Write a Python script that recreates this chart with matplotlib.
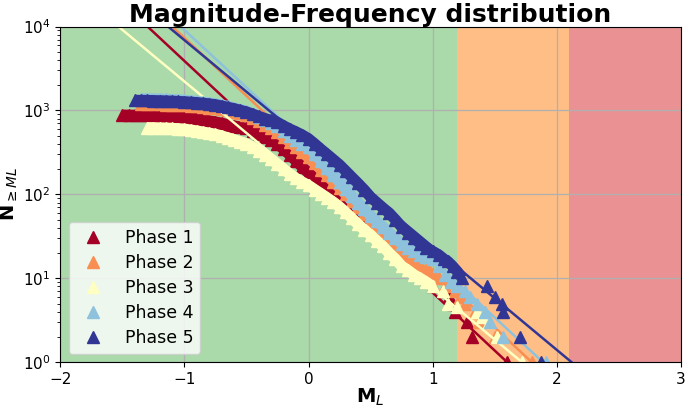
import numpy as np
import matplotlib
matplotlib.use("Agg")
import matplotlib.pyplot as plt

# cumulative counts N(>=M), one pair of arrays per phase
m_p1 = [-1.50, -1.45, -1.40, -1.35, -1.30, -1.25, -1.20, -1.15, -1.10, -1.05,
        -1.00, -0.95, -0.90, -0.85, -0.80, -0.75, -0.70, -0.65, -0.60, -0.55,
        -0.50, -0.45, -0.40, -0.35, -0.30, -0.25, -0.20, -0.15, -0.10, -0.05,
        0.00, 0.05, 0.10, 0.15, 0.20, 0.25, 0.30, 0.35, 0.40, 0.45,
        0.50, 0.55, 0.60, 0.65, 0.70, 0.75, 0.80, 0.85, 0.90, 0.95,
        1.00, 1.08, 1.13, 1.16, 1.18, 1.28, 1.32, 1.60]
n_p1 = [880, 878, 876, 874, 872, 868, 864, 858, 852, 848,
        840, 820, 800, 775, 752, 730, 705, 680, 655, 635,
        610, 565, 520, 480, 440, 400, 345, 295, 250, 212,
        180, 158, 140, 124, 110, 98, 82, 70, 60, 51,
        43, 37, 32, 27, 23, 20, 17, 14, 12, 10,
        8, 7, 6, 5, 4, 3, 2, 1]

m_p2 = [-1.35, -1.30, -1.25, -1.20, -1.15, -1.10, -1.05,
        -1.00, -0.95, -0.90, -0.85, -0.80, -0.75, -0.70, -0.65, -0.60, -0.55,
        -0.50, -0.45, -0.40, -0.35, -0.30, -0.25, -0.20, -0.15, -0.10, -0.05,
        0.00, 0.05, 0.10, 0.15, 0.20, 0.25, 0.30, 0.35, 0.40, 0.45,
        0.50, 0.55, 0.60, 0.65, 0.70, 0.75, 0.80, 0.85, 0.90, 0.95,
        1.00, 1.05, 1.10, 1.18, 1.22, 1.26, 1.34, 1.37, 1.50, 1.80]
n_p2 = [1190, 1188, 1185, 1180, 1175, 1168, 1160,
        1150, 1135, 1118, 1100, 1082, 1060, 1030, 1000, 965, 930,
        890, 820, 750, 680, 615, 550, 480, 420, 365, 320,
        280, 235, 198, 168, 142, 120, 100, 84, 70, 59,
        50, 42, 35, 29, 24, 20, 17, 15, 13, 12,
        11, 10, 8, 7, 6, 5, 4, 3, 2, 1]

m_p3 = [-1.30, -1.25, -1.20, -1.15, -1.10, -1.05,
        -1.00, -0.95, -0.90, -0.85, -0.80, -0.75, -0.70, -0.65, -0.60, -0.55,
        -0.50, -0.45, -0.40, -0.35, -0.30, -0.25, -0.20, -0.15, -0.10, -0.05,
        0.00, 0.05, 0.10, 0.15, 0.20, 0.25, 0.30, 0.35, 0.40, 0.45,
        0.50, 0.55, 0.60, 0.65, 0.70, 0.75, 0.80, 0.85, 0.90, 0.95,
        1.00, 1.08, 1.12, 1.20, 1.36, 1.40, 1.45, 1.52, 1.72]
n_p3 = [625, 623, 620, 617, 612, 606,
        600, 585, 570, 553, 537, 520, 497, 472, 448, 424,
        400, 365, 330, 295, 262, 230, 200, 175, 155, 140,
        128, 114, 102, 91, 81, 71, 61, 52, 44, 38,
        33, 28, 24, 20, 17, 14, 12.5, 11, 10, 9,
        8, 7, 5, 4.5, 4, 3.5, 3, 2, 1]

m_p4 = [-1.35, -1.30, -1.25, -1.20, -1.15, -1.10, -1.05,
        -1.00, -0.95, -0.90, -0.85, -0.80, -0.75, -0.70, -0.65, -0.60, -0.55,
        -0.50, -0.45, -0.40, -0.35, -0.30, -0.25, -0.20, -0.15, -0.10, -0.05,
        0.00, 0.05, 0.10, 0.15, 0.20, 0.25, 0.30, 0.35, 0.40, 0.45,
        0.50, 0.55, 0.60, 0.65, 0.70, 0.75, 0.80, 0.85, 0.90, 0.95,
        1.00, 1.05, 1.10, 1.15, 1.20, 1.26, 1.30, 1.36, 1.42, 1.46, 1.57, 1.91]
n_p4 = [1380, 1375, 1370, 1362, 1355, 1345, 1335,
        1320, 1300, 1280, 1255, 1230, 1200, 1160, 1115, 1070, 1025,
        980, 910, 845, 780, 715, 650, 570, 500, 440, 400,
        370, 305, 250, 205, 170, 140, 116, 96, 80, 67,
        56, 48, 41, 35, 30, 26, 23, 21, 19, 18,
        17, 14, 11, 9, 8, 7, 6, 5, 4, 3, 2, 1]

m_p5 = [-1.40, -1.35, -1.30, -1.25, -1.20, -1.15, -1.10, -1.05,
        -1.00, -0.95, -0.90, -0.85, -0.80, -0.75, -0.70, -0.65, -0.60, -0.55,
        -0.50, -0.45, -0.40, -0.35, -0.30, -0.25, -0.20, -0.15, -0.10, -0.05,
        0.00, 0.05, 0.10, 0.15, 0.20, 0.25, 0.30, 0.35, 0.40, 0.45,
        0.50, 0.55, 0.60, 0.65, 0.70, 0.75, 0.80, 0.85, 0.90, 0.95,
        1.00, 1.05, 1.09, 1.12, 1.16, 1.20, 1.24, 1.44, 1.50, 1.56, 1.57, 1.70, 1.87]
n_p5 = [1320, 1318, 1315, 1310, 1305, 1298, 1290, 1280,
        1270, 1255, 1240, 1220, 1195, 1170, 1130, 1090, 1050, 1005,
        960, 905, 850, 800, 760, 720, 655, 600, 555, 510,
        460, 400, 345, 300, 260, 225, 190, 160, 135, 113,
        93, 80, 69, 60, 50, 41, 35, 30, 26, 23,
        21, 19, 17, 16, 14, 12, 10, 8, 6, 5, 4, 2, 1]

phase_m = [m_p1, m_p2, m_p3, m_p4, m_p5]
phase_n = [n_p1, n_p2, n_p3, n_p4, n_p5]
labels = ["Phase 1", "Phase 2", "Phase 3", "Phase 4", "Phase 5"]

# where the dense part of each distribution ends (isolated triangles after it)
body_end = [1.00, 1.00, 1.00, 1.00, 1.24]

# Gutenberg-Richter fits: log10 N = a - b*M
a_values = [2.21, 2.484, 2.116, 2.589, 2.608]
b_values = [1.38, 1.38, 1.23, 1.37, 1.23]

colors = plt.cm.RdYlBu(np.linspace(0, 1, 5))

fig = plt.figure(figsize=(6.85, 4.08), dpi=100)
ax = fig.add_axes([0.088, 0.112, 0.906, 0.823])

ax.axvspan(-2, 1.2, color="tab:green", alpha=0.4, lw=0)
ax.axvspan(1.2, 2.1, color="tab:orange", alpha=0.5, lw=0)
ax.axvspan(2.1, 3, color="tab:red", alpha=0.5, lw=0)

m_line = np.array([-2.0, 3.0])
for m, n, end, a, b, c, lab in zip(phase_m, phase_n, body_end, a_values,
                                   b_values, colors, labels):
    m = np.array(m)
    n = np.array(n)
    body = m <= end
    # the events are so dense the triangles merge into a band
    ax.plot(m[body], n[body], "-", lw=8, color=c,
            solid_joinstyle="round", solid_capstyle="butt")
    ax.plot(m, n, "^", ms=8.5, color=c, label=lab)
    ax.plot(m_line, 10 ** (a - b * m_line), "-", color=c, lw=1.8)

ax.set_yscale("log")
ax.set_xlim(-2, 3)
ax.set_ylim(1, 1e4)
ax.grid(True, color="#b0b0b0", lw=0.9)
ax.tick_params(labelsize=11)

ax.set_title("Magnitude-Frequency distribution", fontsize=18, fontweight="bold", pad=3)
ax.set_xlabel(r"$\mathbf{M}_L$", fontsize=14, labelpad=0)
ax.set_ylabel(r"$\mathbf{N}_{\geq ML}$", fontsize=14, labelpad=2)

ax.legend(loc="lower left", fontsize=12.5, numpoints=1, labelspacing=0.4)

fig.savefig("out.png", dpi=100)
